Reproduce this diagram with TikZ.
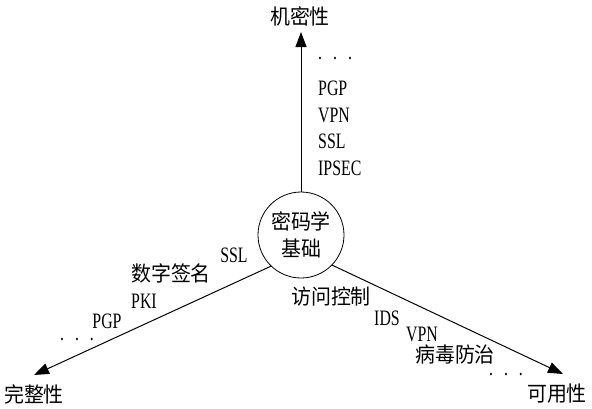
\documentclass[tikz,border=0pt]{standalone}
\usepackage{fontspec}
\setmainfont{Liberation Serif}[FakeStretch=0.72]
\newfontfamily\cjk{Noto Sans CJK SC}[FakeStretch=0.95]
\usetikzlibrary{arrows.meta,positioning,calc}

\begin{document}
\begin{tikzpicture}[x=1pt,y=-1pt]

        \def\r{43pt}

        % Styles for the labels along the three axes
        \tikzset{
            goal/.style={font=\cjk\fontsize{21}{23}\selectfont, inner sep=0pt},
            item/.style={font=\fontsize{22}{24}\selectfont, inner sep=0pt},
            citem/.style={font=\cjk\fontsize{21}{23}\selectfont, inner sep=0pt},
            axis/.style={line width=1pt, -{Triangle[length=15pt,width=11pt]}}
        }

        \useasboundingbox (0,0) rectangle (592,408);

        % Centre and the three ends
        \begin{scope}
            \node (core) [circle, draw, line width=0.8pt, minimum size=2*\r,
            inner sep=0pt, align=center, font=\cjk\fontsize{21}{27}\selectfont]
            at (301,235) {密码学\\基础};
            \coordinate (T) at (301,32);
            \coordinate (L) at (34,375);
            \coordinate (R) at (563,374);
            \node (G1) [goal] at (300,16) {机密性};
            \node (G2) [goal] at (34,394) {完整性};
            \node (G3) [goal] at (557,394) {可用性};
        \end{scope}

        % Top axis
        \node (A0) [item, anchor=base west] at (318,59) {.\,\,\,.\,\,\,.};
        \node (A1) [item, anchor=west] at (318,88) {PGP};
        \node (A2) [item, anchor=west] at (318,115) {VPN};
        \node (A3) [item, anchor=west] at (318,141) {SSL};
        \node (A4) [item, anchor=west] at (318,168) {IPSEC};

        % Left axis
        \node (B1) [item] at (234,255) {SSL};
        \node (B2) [citem] at (171,273) {数字签名};
        \node (B3) [item] at (144,301) {PKI};
        \node (B4) [item] at (107,321) {PGP};
        \node (B5) [item, anchor=base] at (77,340) {.\,\,\,.\,\,\,.};

        % Right axis
        \node (C1) [citem] at (331,297) {访问控制};
        \node (C2) [item] at (387,318) {IDS};
        \node (C3) [item] at (422,334) {VPN};
        \node (C4) [citem] at (455,355) {病毒防治};
        \node (C5) [item, anchor=base] at (506,375) {.\,\,\,.\,\,\,.};

        \begin{scope}
            \draw[axis] (core.north) -- (T);
            \draw[axis] (core.226) -- (L);
            \draw[axis] (core.316) -- (R);
        \end{scope}

\end{tikzpicture}
\end{document}
